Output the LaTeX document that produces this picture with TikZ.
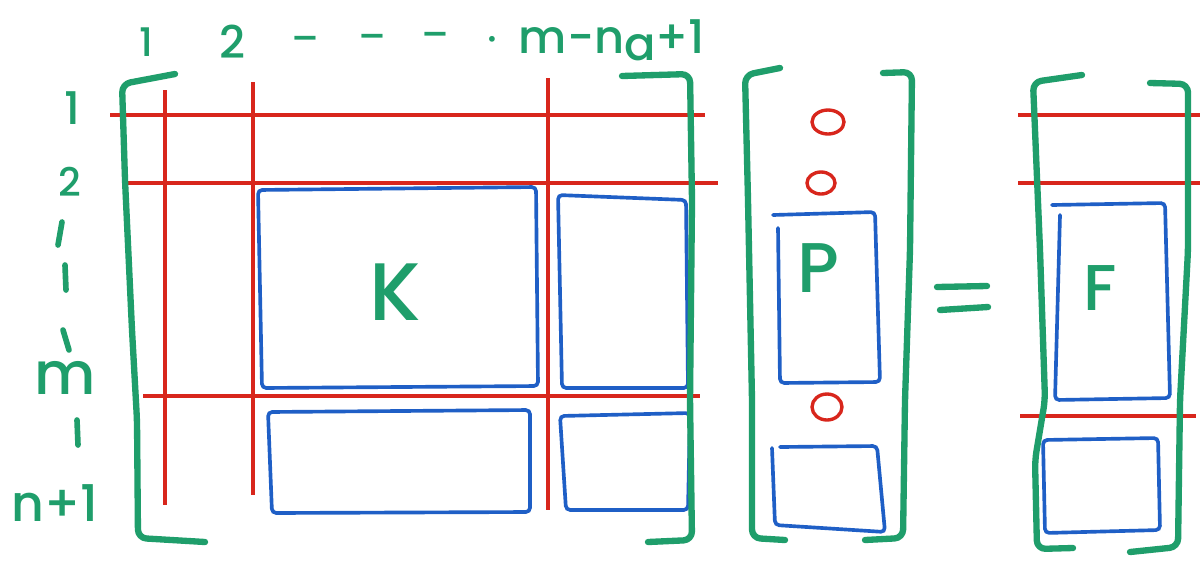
\documentclass[tikz,border=0pt]{standalone}
\usepackage{fontspec}
\setmainfont{Poppins}[BoldFont={Poppins Medium}]
\definecolor{gr}{HTML}{1F9E6B}
\definecolor{rd}{HTML}{D8261C}
\definecolor{bl}{HTML}{1F5FC6}
\begin{document}
\begin{tikzpicture}[x=0.025cm,y=-0.025cm,
 brk/.style={draw=gr,line width=4.5pt,line cap=round,line join=round,rounded corners=6pt},
 gridline/.style={draw=rd,line width=2.2pt},
 blk/.style={draw=bl,line width=2.6pt,rounded corners=3pt,line cap=round},
 lbl/.style={text=gr,inner sep=0pt,font=\bfseries\fontsize{28}{28}\selectfont},
 big/.style={text=gr,inner sep=0pt,font=\bfseries\fontsize{58}{58}\selectfont},
 tick/.style={draw=gr,line width=4pt,line cap=round},
 zero/.style={draw=rd,line width=2.4pt}]
\useasboundingbox[fill=white] (0,0) rectangle (1200,574);

% ---------- big matrix ----------
\draw[gridline] (110,115) -- (705,115);
\draw[gridline] (128,183) -- (718,183);
\draw[gridline] (143,396) -- (700,396);
\draw[gridline] (165,90) -- (165,505);
\draw[gridline] (253,82) -- (253,495);
\draw[gridline] (548,78) -- (548,510);

\draw[blk] (258,190) -- (536,187) -- (538,386) -- (262,388) -- cycle;
\draw[blk] (558,195) -- (686,200) -- (688,388) -- (562,388) -- cycle;
\draw[blk] (268,412) -- (530,410) -- (530,512) -- (272,513) -- cycle;
\draw[blk] (560,416) -- (690,413) -- (688,510) -- (566,510) -- cycle;
\node[big] (K) at (395,292) {K};

\draw[brk] (175,74) -- (122,84) -- (125,180) -- (132,330) -- (137,420) -- (138,538) -- (205,542);
\draw[brk] (622,76) -- (690,74) -- (692,200) -- (690,400) -- (692,540) -- (648,542);

% top labels
\node[lbl,font=\bfseries\fontsize{28}{28}\selectfont] (c1) at (146,42) {1};
\node[lbl,font=\bfseries\fontsize{32}{32}\selectfont] (c2) at (232,42) {2};
\node[lbl] (d1) at (305,44) {–};
\node[lbl] (d2) at (372,42) {–};
\node[lbl] (d3) at (435,40) {–};
\node[lbl] (d4) at (492,44) {·};
\node[lbl,font=\bfseries\fontsize{33}{33}\selectfont] (cm) at (612,40) {m-n\raisebox{-5pt}{a}+1};

% left labels
\node[lbl,font=\bfseries\fontsize{32}{32}\selectfont] (r1) at (72,108) {1};
\node[lbl] (r2) at (70,182) {2};
\draw[tick] (62,222) -- (58,245);
\draw[tick] (65,265) -- (66,290);
\draw[tick] (63,330) -- (69,350);
\node[lbl,font=\bfseries\fontsize{42}{42}\selectfont] (rm) at (65,378) {m};
\draw[tick] (77,420) -- (78,445);
\node[lbl,font=\bfseries\fontsize{36}{36}\selectfont] (rn) at (55,503) {n+1};

% ---------- P vector ----------
\draw[zero] (828,122) ellipse [x radius=16,y radius=12];
\draw[zero] (821,183) ellipse [x radius=14,y radius=11];
\draw[zero] (827,407) ellipse [x radius=15,y radius=13];
\draw[blk] (773,215) -- (875,212) -- (880,382) -- (780,383) -- (778,228);
\draw[blk] (780,447) -- (877,446) -- (885,532) -- (775,525) -- (772,448);
\node[big,font=\bfseries\fontsize{50}{50}\selectfont] (P) at (818,268) {P};
\draw[brk] (780,68) -- (745,75) -- (748,200) -- (752,400) -- (752,538) -- (785,540);
\draw[brk] (883,73) -- (912,72) -- (910,250) -- (905,400) -- (903,538) -- (865,540);

% equals
\draw[tick,line width=4.5pt] (937,287) -- (987,286);
\draw[tick,line width=4.5pt] (940,310) -- (988,307);

% ---------- F vector ----------
\draw[gridline] (1018,115) -- (1200,115);
\draw[gridline] (1018,183) -- (1200,183);
\draw[gridline] (1020,416) -- (1196,416);
\draw[blk] (1052,205) -- (1165,203) -- (1170,398) -- (1055,400) -- (1060,215);
\draw[blk] (1043,440) -- (1158,438) -- (1160,530) -- (1045,533) -- cycle;
\node[big,font=\bfseries\fontsize{46}{46}\selectfont] (F) at (1100,288) {F};
\draw[brk] (1082,75) -- (1033,82) -- (1040,250) -- (1045,400) -- (1035,460) -- (1037,549) -- (1073,548);
\draw[brk] (1150,83) -- (1188,84) -- (1188,250) -- (1180,400) -- (1178,547) -- (1130,552);
\end{tikzpicture}
\end{document}
